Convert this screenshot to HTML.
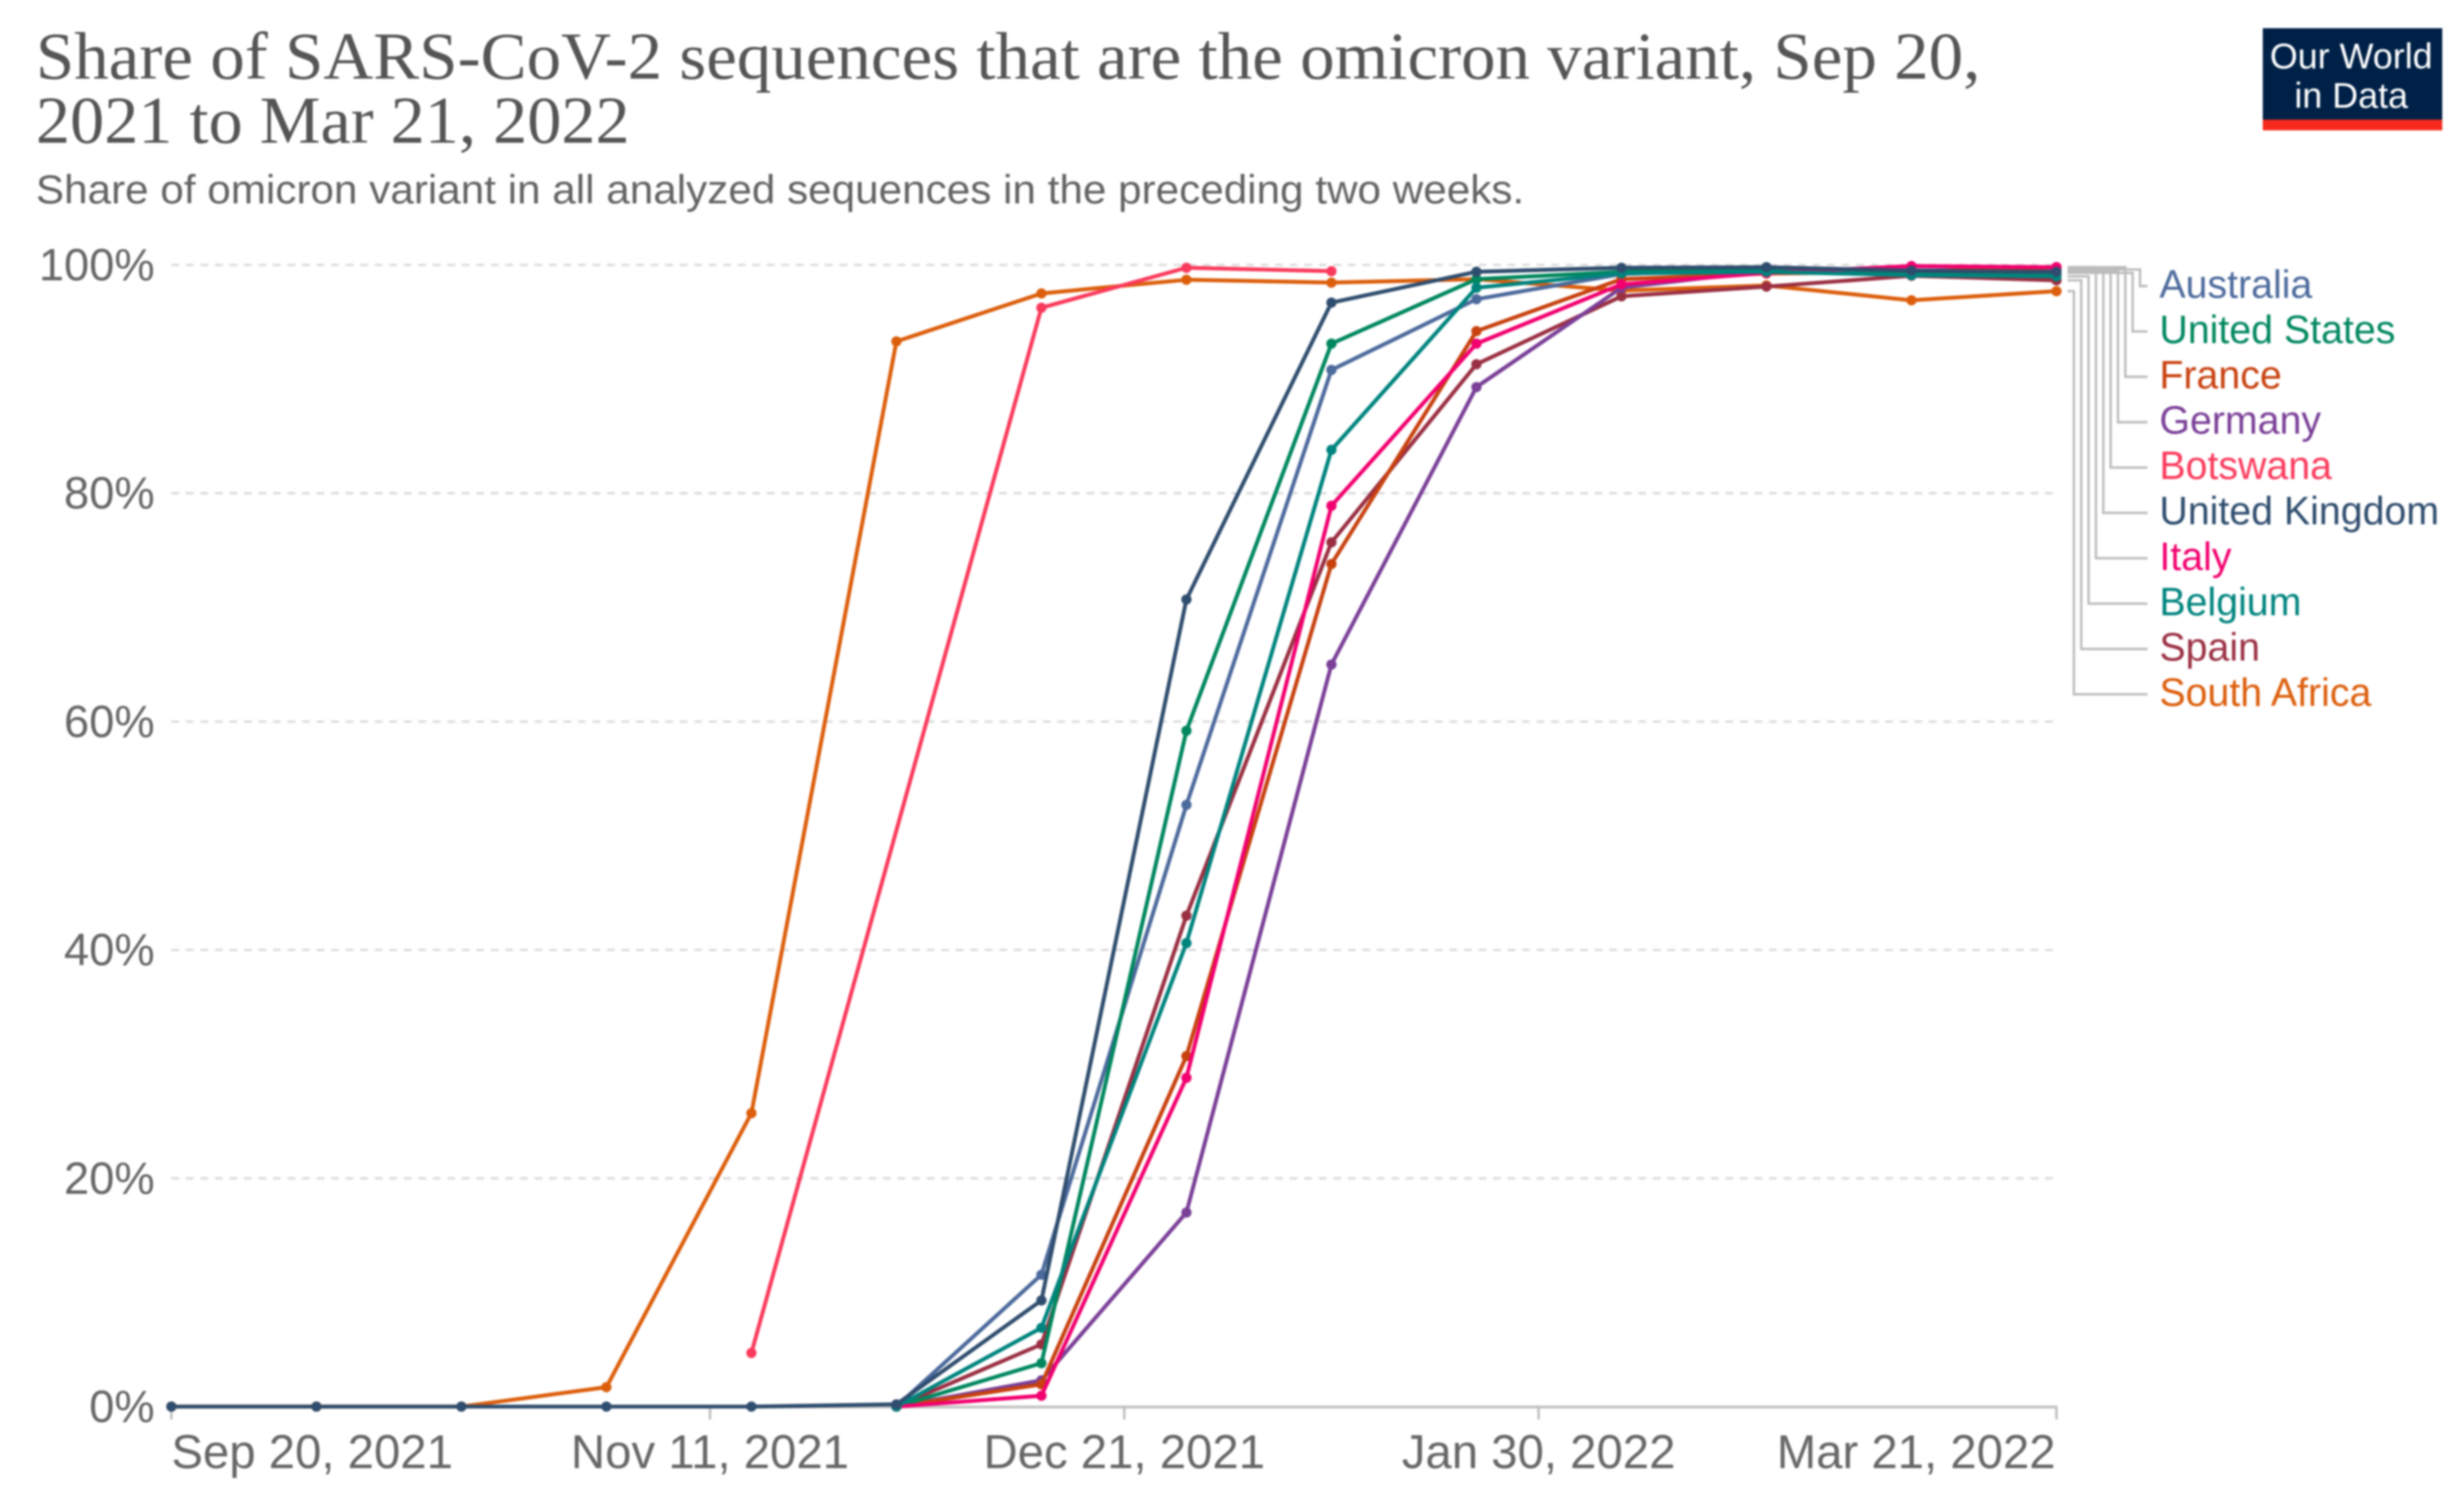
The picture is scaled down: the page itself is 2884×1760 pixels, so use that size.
<!DOCTYPE html>
<html lang="en">
<head>
<meta charset="utf-8">
<title>Share of SARS-CoV-2 sequences that are the omicron variant</title>
<style>
html,body{margin:0;padding:0;background:#fff;width:2884px;height:1760px;overflow:hidden}
svg{display:block;filter:blur(1px)}
text{font-family:"Liberation Sans",sans-serif}
.serif{font-family:"Liberation Serif",serif}
</style>
</head>
<body>
<svg id="chart" xmlns="http://www.w3.org/2000/svg" width="2884" height="1760" viewBox="0 0 2884 1760">
  <rect width="2884" height="1760" fill="#fff"/>
  <text class="serif" x="42" y="92" font-size="78" fill="#555555" textLength="2276" lengthAdjust="spacingAndGlyphs">Share of SARS-CoV-2 sequences that are the omicron variant, Sep 20,</text>
  <text class="serif" x="42" y="167" font-size="78" fill="#555555" textLength="695" lengthAdjust="spacingAndGlyphs">2021 to Mar 21, 2022</text>
  <text x="42" y="238" font-size="47" fill="#636363" textLength="1742" lengthAdjust="spacingAndGlyphs">Share of omicron variant in all analyzed sequences in the preceding two weeks.</text>
  <g>
    <rect x="2648.5" y="33" width="210" height="107" fill="#002147"/>
    <rect x="2648.5" y="140" width="210" height="12.5" fill="#f5291c"/>
    <text x="2752" y="80" font-size="42" fill="#fff" text-anchor="middle">Our World</text>
    <text x="2752" y="126" font-size="42" fill="#fff" text-anchor="middle">in Data</text>
  </g>
  <g id="grid"></g>
  <g id="yaxis"></g>
  <g id="xaxis"></g>
  <g id="connectors"></g>
  <g id="series"></g>
  <g id="legend"></g>
</svg>
<script>
// Observation dates as days since Sep 20, 2021
const observationDays = [0, 14, 28, 42, 56, 70, 84, 98, 112, 126, 140, 154, 168, 182];

// Share of omicron (%) per country; null = no data
const australia     = [null, null, null, null, null, 0, 11.55, 52.7, 90.8, 97.0, 99.2, 99.7, 99.5, 99.6];
const unitedStates  = [null, null, null, null, null, 0, 3.8, 59.2, 93.1, 98.75, 99.4, 99.6, 99.3, 99.3];
const france        = [null, null, null, null, null, 0, 1.95, 30.7, 73.8, 94.2, 98.75, 99.25, 99.4, 99.8];
const germany       = [null, null, null, null, null, 0, 2.3, 17.0, 65.0, 89.3, 98.0, 99.5, 99.5, 99.5];
const botswana      = [null, null, null, null, 4.7, null, 96.25, 99.75, 99.45, null, null, null, null, null];
const unitedKingdom = [0, 0, 0, 0, 0, 0.2, 9.3, 70.7, 96.7, 99.4, 99.75, 99.8, 99.5, 99.4];
const italy         = [null, null, null, null, null, 0, 0.95, 28.8, 78.9, 93.1, 98.3, 99.3, 99.9, 99.8];
const belgium       = [null, null, null, null, null, 0, 6.9, 40.6, 83.8, 98.0, 99.25, 99.4, 99.1, 99.0];
const spain         = [null, null, null, null, null, 0, 5.45, 43.0, 75.7, 91.3, 97.25, 98.1, 99.05, 98.65];
const southAfrica   = [0, 0, 0, 1.7, 25.7, 93.3, 97.5, 98.7, 98.45, 98.75, 97.75, 98.2, 96.9, 97.7];

// Tick values and labels
const yTickValues = [0, 20, 40, 60, 80, 100];
const yTickLabels = ['0%', '20%', '40%', '60%', '80%', '100%'];
const xTickDays   = [0, 52, 92, 132, 182];
const xTickLabels = ['Sep 20, 2021', 'Nov 11, 2021', 'Dec 21, 2021', 'Jan 30, 2022', 'Mar 21, 2022'];

// Legend order, top to bottom
const legendNames  = ['Australia', 'United States', 'France', 'Germany', 'Botswana', 'United Kingdom', 'Italy', 'Belgium', 'Spain', 'South Africa'];
const legendValues = [australia, unitedStates, france, germany, botswana, unitedKingdom, italy, belgium, spain, southAfrica];
const legendColors = ['#4c6a9c', '#00875e', '#c8410f', '#7a3f97', '#fa3a5c', '#2f4d6e', '#f2006f', '#00847e', '#9a2f42', '#dc5e0c'];
// Paint order (indexes into the legend arrays), bottom to top
const paintOrder = [9, 4, 8, 3, 0, 2, 1, 6, 7, 5];

const SVGNS = 'http://www.w3.org/2000/svg';
const plotLeft = 200.6, plotRight = 2407, plotTop = 310, plotBottom = 1646;
const maxDay = 182, maxValue = 100;
function xScale(d) { return plotLeft + d * (plotRight - plotLeft) / maxDay; }
function yScale(v) { return plotBottom - v * (plotBottom - plotTop) / maxValue; }
function slug(s) { return s.toLowerCase().replace(/\s+/g, '-'); }
function make(tag, parent, attrs) {
  const el = document.createElementNS(SVGNS, tag);
  for (const k in attrs) el.setAttribute(k, attrs[k]);
  parent.appendChild(el);
  return el;
}

// Gridlines and y-axis labels
const gridGroup = document.getElementById('grid');
const yAxisGroup = document.getElementById('yaxis');
yTickValues.forEach(function (v, i) {
  if (v !== 0) {
    const line = make('line', gridGroup, {x1: plotLeft, x2: plotRight, y1: yScale(v), y2: yScale(v), stroke: '#dcdcdc', 'stroke-width': 2.8, 'stroke-dasharray': '9 8'});
    
    
  }
  const label = make('text', yAxisGroup, {x: 181, y: yScale(v) + 18, 'font-size': 53, fill: '#666666', 'text-anchor': 'end'});
  label.textContent = yTickLabels[i];
  
  
});

// X axis
const xAxisGroup = document.getElementById('xaxis');
const axisLine = make('line', xAxisGroup, {x1: plotLeft, x2: plotRight + 1, y1: plotBottom + 0.5, y2: plotBottom + 0.5, stroke: '#c4c4c4', 'stroke-width': 3.4});


xTickDays.forEach(function (d, i) {
  const px = xScale(d);
  const tick = make('line', xAxisGroup, {x1: px, x2: px, y1: plotBottom, y2: plotBottom + 15, stroke: '#bdbdbd', 'stroke-width': 2.8});
  
  
  const anchor = i === 0 ? 'start' : (i === xTickDays.length - 1 ? 'end' : 'middle');
  const label = make('text', xAxisGroup, {x: px + (i === xTickDays.length - 1 ? -1 : 0), y: 1718, 'font-size': 55.4, fill: '#666666', 'text-anchor': anchor});
  label.textContent = xTickLabels[i];
  
  
});

// Lines and point markers
const seriesGroup = document.getElementById('series');
paintOrder.forEach(function (idx) {
  const name = legendNames[idx];
  const values = legendValues[idx];
  const color = legendColors[idx];
  const group = make('g', seriesGroup, {});
  
  
  const pts = [];
  values.forEach(function (v, j) {
    if (v !== null) pts.push([xScale(observationDays[j]), yScale(v)]);
  });
  const line = make('polyline', group, {points: pts.map(function (p) { return p[0] + ',' + p[1]; }).join(' '), fill: 'none', stroke: color, 'stroke-width': 4.6, 'stroke-linejoin': 'round'});
  
  
  pts.forEach(function (p, j) {
    const dot = make('circle', group, {cx: p[0], cy: p[1], r: 6, fill: color});
    
    
  });
});

// Legend labels and connectors
const legendGroup = document.getElementById('legend');
const connectorGroup = document.getElementById('connectors');
legendNames.forEach(function (name, i) {
  const labelY = 334.8 + i * 53.08;
  const values = legendValues[i].filter(function (v) { return v !== null; });
  const startY = yScale(values[values.length - 1]);
  const elbowX = 2504.8 - i * 8.6;
  const conn = make('polyline', connectorGroup, {points: '2420,' + startY + ' ' + elbowX + ',' + startY + ' ' + elbowX + ',' + labelY + ' 2513.5,' + labelY, fill: 'none', stroke: '#bcbcbc', 'stroke-width': 2.8});
  
  
  const label = make('text', legendGroup, {x: 2527.5, y: labelY + 13.5, 'font-size': 46, fill: legendColors[i]});
  label.textContent = name;
  
  
});
</script>
</body>
</html>
